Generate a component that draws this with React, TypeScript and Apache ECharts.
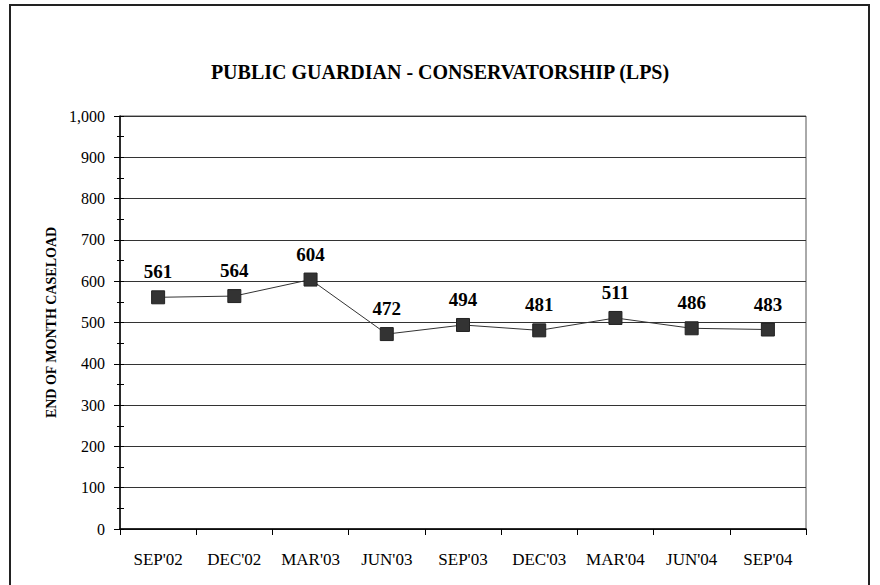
import React, { useEffect, useRef } from "react";
import * as echarts from "echarts";

const categories = ["SEP'02", "DEC'02", "MAR'03", "JUN'03", "SEP'03", "DEC'03", "MAR'04", "JUN'04", "SEP'04"];
const caseload = [561, 564, 604, 472, 494, 481, 511, 486, 483];

const SERIF = "Liberation Serif";

export default function App() {
  const ref = useRef<HTMLDivElement>(null);

  useEffect(() => {
    if (!ref.current) return;
    const chart = echarts.init(ref.current, null, { renderer: "svg" });
    chart.setOption({
      animation: false,
      backgroundColor: "#ffffff",
      title: {
        text: "PUBLIC GUARDIAN - CONSERVATORSHIP (LPS)",
        left: "center",
        top: 57,
        textStyle: { fontFamily: SERIF, fontWeight: "bold", fontSize: 20, color: "#000" },
      },
      graphic: [
        {
          type: "rect",
          shape: { x: 10, y: 5, width: 859, height: 600 },
          style: { fill: "none", stroke: "#222", lineWidth: 2 },
        },
      ],
      grid: {
        left: 120,
        right: 74,
        top: 116,
        bottom: 56,
        show: true,
        borderColor: "#555",
        borderWidth: 1,
        containLabel: false,
      },
      xAxis: {
        type: "category",
        data: categories,
        boundaryGap: true,
        axisLine: { lineStyle: { color: "#000", width: 1.5 } },
        axisTick: { show: true, length: 6, interval: 0, lineStyle: { color: "#000" } },
        axisLabel: { interval: 0, fontFamily: SERIF, fontSize: 17, color: "#000", margin: 22 },
      },
      yAxis: [
        {
          type: "value",
          min: 0,
          max: 1000,
          interval: 100,
          name: "END OF MONTH CASELOAD",
          nameLocation: "middle",
          nameGap: 62,
          nameTextStyle: { fontFamily: SERIF, fontWeight: "bold", fontSize: 14, color: "#000" },
          axisLine: { show: true, lineStyle: { color: "#000", width: 1.5 } },
          axisTick: { show: true, length: 6, lineStyle: { color: "#000" } },
          minorTick: { show: true, splitNumber: 2, length: 3, lineStyle: { color: "#000" } },
          axisLabel: {
            fontFamily: SERIF,
            fontSize: 16,
            color: "#000",
            margin: 15,
            formatter: (v: number) => v.toLocaleString("en-US"),
          },
          splitLine: { show: true, lineStyle: { color: "#333", width: 1 } },
        },
        {
          // inner half of the minor ticks, crossing the axis line
          type: "value",
          position: "left",
          min: 0,
          max: 1000,
          interval: 50,
          axisLine: { show: false },
          axisTick: { show: true, inside: true, length: 4, lineStyle: { color: "#000" } },
          axisLabel: { show: false },
          splitLine: { show: false },
        },
      ],
      series: [
        {
          type: "line",
          data: caseload,
          yAxisIndex: 0,
          symbol: "rect",
          symbolSize: 13,
          lineStyle: { color: "#333", width: 1 },
          itemStyle: { color: "#333", borderColor: "#222", borderWidth: 1 },
          label: {
            show: true,
            position: "top",
            distance: 9,
            fontFamily: SERIF,
            fontWeight: "bold",
            fontSize: 19,
            color: "#000",
          },
        },
      ],
    });
    return () => chart.dispose();
  }, []);

  return <div ref={ref} style={{ width: 880, height: 585, position: "absolute", left: 0, top: 0 }} />;
}
